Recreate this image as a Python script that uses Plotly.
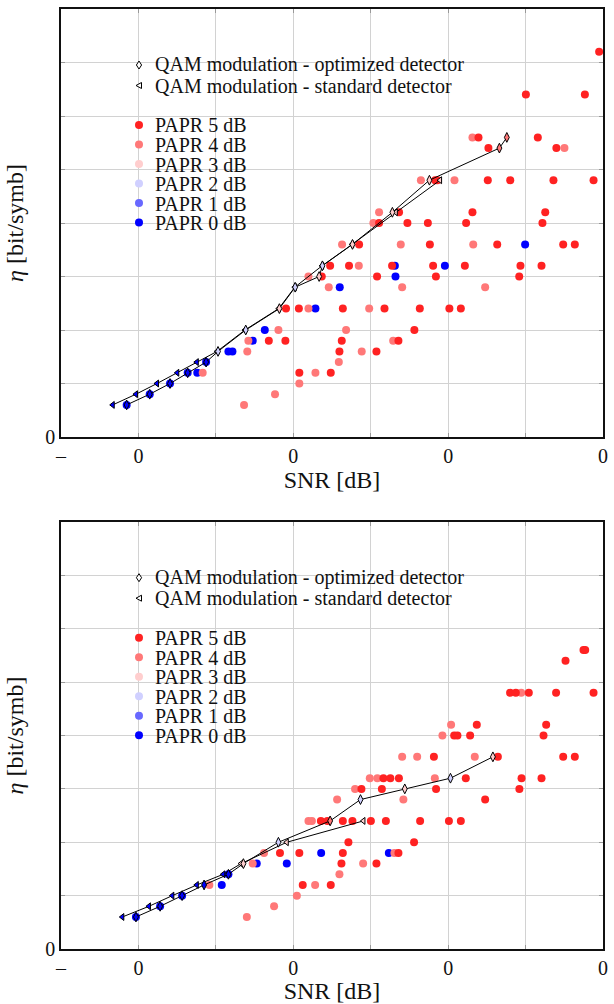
import plotly.graph_objects as go

# ---------------- data ----------------
# top panel
top_p5_x = [29.75, 25.02, 28.83, 21.96, 25.79, 22.60, 26.99, 19.16, 19.31, 22.56, 24.01, 26.80, 29.39,
            16.83, 21.57, 26.27, 15.54, 17.37, 18.69, 21.16, 26.09, 14.25, 18.82, 23.17, 27.43, 28.18,
            12.38, 13.60, 16.38, 19.03, 21.08, 24.67, 26.03, 11.84, 15.41, 19.21, 24.59,
            9.53, 10.36, 13.20, 15.89, 18.17, 20.08, 20.82, 8.42, 9.49, 13.13, 16.79, 17.82,
            12.98, 15.37, 10.39, 12.42]
top_p5_y = [7.2, 6.4, 6.4, 5.6, 5.6, 5.4, 5.4, 4.8, 4.8, 4.8, 4.8, 4.8, 4.8,
            4.2, 4.2, 4.2, 4.0, 4.0, 4.0, 4.0, 4.0, 3.6, 3.6, 3.6, 3.6, 3.6,
            3.2, 3.2, 3.2, 3.2, 3.2, 3.2, 3.2, 3.0, 3.0, 3.0, 3.0,
            2.4, 2.4, 2.4, 2.4, 2.4, 2.4, 2.4, 1.8, 1.8, 1.8, 1.8, 2.0,
            1.6, 1.6, 1.2, 1.2]
top_p4_x = [21.57, 27.51, 18.24, 20.41, 15.54, 15.17, 13.15, 16.94, 21.62, 14.23, 10.98, 12.29, 17.03,
            22.39, 10.98, 14.90, 13.41, 9.04, 16.45, 7.10, 14.42, 7.03, 12.94, 4.15, 11.43, 10.39,
            8.82, 6.82]
top_p4_y = [5.6, 5.4, 4.8, 4.8, 4.2, 4.0, 3.6, 3.6, 3.6, 3.2, 3.0, 2.8, 2.8,
            2.8, 2.4, 2.4, 2.0, 2.0, 1.8, 1.8, 1.6, 1.6, 1.4, 1.2, 1.2, 1.0,
            0.8, 0.6]
top_p0_x = [24.97, 16.56, 19.79, 16.60, 13.00, 11.43, 8.16, 7.38, 5.81, 6.07, 3.80,
            -0.76, 0.73, 2.04, 3.18, 4.37]
top_p0_y = [3.6, 3.2, 3.2, 3.0, 2.8, 2.4, 2.0, 1.8, 1.6, 1.6, 1.2,
            0.6, 0.8, 1.0, 1.2, 1.4]
top_opt_x = [-0.76, 0.73, 2.04, 3.18, 4.37, 5.14, 6.93, 9.10, 10.12, 11.67, 11.88, 13.82, 16.40, 18.79, 23.31, 23.79]
top_opt_y = [0.6, 0.8, 1.0, 1.2, 1.4, 1.6, 2.0, 2.4, 2.8, 3.0, 3.2, 3.6, 4.2, 4.8, 5.4, 5.6]
top_opt_papr = [0, 0, 0, 0, 0, 2, 2, 3, 2, 3, 2, 3, 3, 3, 4, 4]
top_std_x = [-1.66, -0.16, 1.20, 2.51, 3.77, 5.08, 6.88, 9.06, 10.10, 11.86, 13.80, 16.62, 19.48]
top_std_y = [0.6, 0.8, 1.0, 1.2, 1.4, 1.6, 2.0, 2.4, 2.8, 3.2, 3.6, 4.2, 4.8]
top_std_papr = [0, 0, 0, 0, 0, 2, 2, 3, 2, 2, 3, 3, 3]

# bottom panel
bot_p5_x = [28.74, 28.85, 27.58, 24.00, 24.37, 25.21, 26.97, 29.39, 21.85, 26.33, 20.39, 20.60, 21.42,
            26.16, 19.08, 23.21, 27.43, 28.18, 15.82, 16.27, 16.82, 21.14, 24.74, 26.03, 14.40,
            15.72, 19.22, 24.60, 22.39, 11.78, 12.20, 13.20, 13.82, 15.01, 15.98, 18.19, 20.05,
            20.82, 13.56, 17.80, 9.14, 10.39, 13.20, 16.79, 13.11, 15.37, 10.61, 12.42]
bot_p5_y = [5.6, 5.6, 5.4, 4.8, 4.8, 4.8, 4.8, 4.8, 4.2, 4.2, 4.0, 4.0, 4.0,
            4.0, 3.6, 3.6, 3.6, 3.6, 3.2, 3.2, 3.2, 3.2, 3.2, 3.2, 3.0,
            3.0, 3.0, 3.0, 2.8, 2.4, 2.4, 2.4, 2.4, 2.4, 2.4, 2.4, 2.4,
            2.4, 2.0, 2.0, 1.8, 1.8, 1.8, 1.8, 1.6, 1.6, 1.2, 1.2]
bot_p4_x = [24.72, 20.19, 19.63, 17.03, 18.00, 21.72, 14.94, 15.43, 19.14, 13.99, 12.83, 17.11,
            10.98, 11.20, 8.11, 16.53, 7.38, 14.51, 12.98, 4.58, 11.41, 10.23, 8.76, 7.00]
bot_p4_y = [4.8, 4.2, 4.0, 3.6, 3.6, 3.6, 3.2, 3.2, 3.2, 3.0, 2.8, 2.8,
            2.4, 2.4, 1.8, 1.8, 1.6, 1.6, 1.4, 1.2, 1.2, 1.0, 0.8, 0.6]
bot_p0_x = [5.38, 7.64, 9.58, 11.80, 16.17, -0.16, 1.40, 2.82, 5.81]
bot_p0_y = [1.2, 1.6, 1.6, 1.8, 1.8, 0.6, 0.8, 1.0, 1.4]
bot_opt_x = [-0.16, 1.40, 2.82, 4.24, 5.81, 6.78, 9.04, 12.38, 14.34, 17.20, 20.15, 22.89]
bot_opt_y = [0.6, 0.8, 1.0, 1.2, 1.4, 1.6, 2.0, 2.4, 2.8, 3.0, 3.2, 3.6]
bot_opt_papr = [0, 0, 0, 0, 0, 3, 2, 4, 2, 3, 2, 3]
bot_std_x = [-1.04, 0.68, 2.19, 3.77, 5.48, 6.63, 9.58, 14.53]
bot_std_y = [0.6, 0.8, 1.0, 1.2, 1.4, 1.6, 2.0, 2.4]
bot_std_papr = [0, 0, 0, 0, 0, 3, 3, 3]

x_tickvals = [-5, 0, 5, 10, 15, 20, 25, 30]
x_ticktext = ["–", "0", "", "0", "", "0", "", "0"]
y_tickvals = [0, 1, 2, 3, 4, 5, 6, 7, 8]
y_ticktext = ["0", "", "", "", "", "", "", "", ""]

qam_labels = ["QAM modulation - optimized detector", "QAM modulation - standard detector"]
papr_levels = [5, 4, 3, 2, 1, 0]
papr_labels = ["PAPR 5 dB", "PAPR 4 dB", "PAPR 3 dB", "PAPR 2 dB", "PAPR 1 dB", "PAPR 0 dB"]

# ---------------- styling ----------------
PAPR_COLORS = {5: "#ff2222", 4: "#ff7878", 3: "#ffcece", 2: "#d0d0ff", 1: "#6868ff", 0: "#0000ff"}
FONT = "Liberation Serif, Times New Roman, serif"
W, H = 614, 1004
ML, MR, MT, MB = 61, 11, 9, 55
PW, PH = W - ML - MR, H - MT - MB
TOP_DOM = [(H - MB - 437) / PH, 1.0]
BOT_DOM = [0.0, (H - MB - 522) / PH]

fig = go.Figure()


def add_panel(fig, xa, ya, p5x, p5y, p4x, p4y, p0x, p0y, ox, oy, op, sx, sy, sp):
    for xs, ys, lvl in [(p0x, p0y, 0), (p4x, p4y, 4), (p5x, p5y, 5)]:
        fig.add_trace(go.Scatter(x=xs, y=ys, mode="markers", xaxis=xa, yaxis=ya, showlegend=False,
                                 marker=dict(size=8, color=PAPR_COLORS[lvl], line=dict(width=0))))
    fig.add_trace(go.Scatter(x=sx, y=sy, mode="lines+markers", xaxis=xa, yaxis=ya, showlegend=False,
                             line=dict(color="black", width=1),
                             marker=dict(symbol="triangle-left", size=6,
                                         color=[PAPR_COLORS[p] for p in sp],
                                         line=dict(color="black", width=1))))
    fig.add_trace(go.Scatter(x=ox, y=oy, mode="lines+markers", xaxis=xa, yaxis=ya, showlegend=False,
                             line=dict(color="black", width=1),
                             marker=dict(symbol="diamond-tall", size=7,
                                         color=[PAPR_COLORS[p] for p in op],
                                         line=dict(color="black", width=1))))


add_panel(fig, "x", "y", top_p5_x, top_p5_y, top_p4_x, top_p4_y, top_p0_x, top_p0_y,
          top_opt_x, top_opt_y, top_opt_papr, top_std_x, top_std_y, top_std_papr)
add_panel(fig, "x2", "y2", bot_p5_x, bot_p5_y, bot_p4_x, bot_p4_y, bot_p0_x, bot_p0_y,
          bot_opt_x, bot_opt_y, bot_opt_papr, bot_std_x, bot_std_y, bot_std_papr)

axis_common = dict(showgrid=True, gridcolor="#d2d2d2", gridwidth=1.2, showline=True, linecolor="#111",
                   linewidth=1.5, mirror="ticks", ticks="inside", ticklen=4, tickcolor="#999",
                   zeroline=False, automargin=False,
                   tickfont=dict(family=FONT, size=20, color="#111"))

xa = dict(axis_common, range=[-5, 30], tickmode="array", tickvals=x_tickvals, ticktext=x_ticktext,
          title=dict(text="SNR [dB]", font=dict(family=FONT, size=24, color="#111"), standoff=5))
ya = dict(axis_common, range=[0, 8], tickmode="array", tickvals=y_tickvals, ticktext=y_ticktext,
          title=dict(text="<i>η</i> [bit/symb]", font=dict(family=FONT, size=24, color="#111"), standoff=15))

fig.update_layout(
    width=W, height=H, margin=dict(l=ML, r=MR, t=MT, b=MB),
    paper_bgcolor="white", plot_bgcolor="white", showlegend=False,
    xaxis=dict(xa, domain=[0, 1], anchor="y"),
    yaxis=dict(ya, domain=TOP_DOM, anchor="x"),
    xaxis2=dict(xa, domain=[0, 1], anchor="y2"),
    yaxis2=dict(ya, domain=BOT_DOM, anchor="x2"),
)

# ---------------- hand-made legends (paper coordinates) ----------------
def px2paper(px, py):
    return (px - ML) / PW, (H - MB - py) / PH

annotations, shapes = [], []
for dy in (0, 512.7):
    rows_qam = [65 + dy, 85.5 + dy]
    rows_papr = [125 + dy + i * 19.5 for i in range(6)]
    for i, (lab, py) in enumerate(zip(qam_labels, rows_qam)):
        mx, my = px2paper(139, py)
        tx, ty = px2paper(153, py)
        annotations.append(dict(x=tx, y=ty, xref="paper", yref="paper", text=lab, showarrow=False,
                                xanchor="left", yanchor="middle",
                                font=dict(family=FONT, size=20, color="#111")))
        path = "M0,4 L2.6,0 L0,-4 L-2.6,0 Z" if i == 0 else "M-3,0 L2.5,-3 L2.5,3 Z"
        shapes.append(dict(type="path", path=path, xref="paper", yref="paper",
                           xsizemode="pixel", ysizemode="pixel", xanchor=mx, yanchor=my,
                           line=dict(color="black", width=1), fillcolor="white"))
    for lvl, lab, py in zip(papr_levels, papr_labels, rows_papr):
        mx, my = px2paper(139, py)
        tx, ty = px2paper(153, py + 0.5)
        annotations.append(dict(x=tx, y=ty, xref="paper", yref="paper", text=lab, showarrow=False,
                                xanchor="left", yanchor="middle",
                                font=dict(family=FONT, size=20, color="#111")))
        shapes.append(dict(type="circle", xref="paper", yref="paper", xsizemode="pixel",
                           ysizemode="pixel", xanchor=mx, yanchor=my, x0=-4, x1=4, y0=-4, y1=4,
                           fillcolor=PAPR_COLORS[lvl], line=dict(width=0)))

fig.update_layout(annotations=annotations, shapes=shapes)
fig.write_html("out.html")
